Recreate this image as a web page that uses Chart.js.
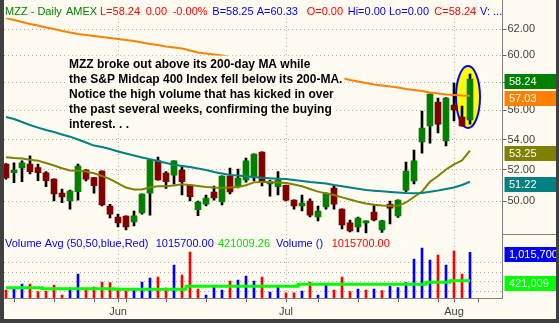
<!DOCTYPE html>
<html><head><meta charset="utf-8">
<script src="https://cdn.jsdelivr.net/npm/chart.js@4.4.1/dist/chart.umd.min.js"></script>
<style>
html,body{margin:0;padding:0;background:#404040;width:559px;height:323px;overflow:hidden}
#wrap{position:absolute;left:4px;top:0;width:552px;height:319px;background:#FFFBF0}
canvas{display:block}
</style></head><body>
<div id="wrap"><canvas id="c" width="552" height="319"></canvas></div>
<script>
// ---------- DATA ----------
const dates = ['2007-05-11','2007-05-14','2007-05-15','2007-05-16','2007-05-17','2007-05-18','2007-05-21','2007-05-22','2007-05-23','2007-05-24','2007-05-25','2007-05-29','2007-05-30','2007-05-31',
'2007-06-01','2007-06-04','2007-06-05','2007-06-06','2007-06-07','2007-06-08','2007-06-11','2007-06-12','2007-06-13','2007-06-14','2007-06-15','2007-06-18','2007-06-19','2007-06-20','2007-06-21','2007-06-22','2007-06-25','2007-06-26','2007-06-27','2007-06-28','2007-06-29',
'2007-07-02','2007-07-03','2007-07-05','2007-07-06','2007-07-09','2007-07-10','2007-07-11','2007-07-12','2007-07-13','2007-07-16','2007-07-17','2007-07-18','2007-07-19','2007-07-20','2007-07-23','2007-07-24','2007-07-25','2007-07-26','2007-07-27','2007-07-30','2007-07-31',
'2007-08-01','2007-08-02','2007-08-03'];
const opens  = [52.36,51.80,52.11,52.37,52.13,51.80,51.39,50.50,50.02,50.59,51.98,51.48,51.91,49.69,49.01,49.07,48.71,49.26,50.50,52.57,51.78,51.65,51.98,51.01,49.46,49.81,50.57,49.94,51.59,50.95,51.33,51.46,53.16,51.08,50.90,50.99,50.06,49.69,50.00,49.01,49.63,50.82,49.50,48.65,48.41,48.65,49.32,48.23,49.81,49.07,50.69,51.27,53.83,54.92,56.59,53.90,56.38,55.54,55.33];
const highs  = [52.40,52.45,52.57,52.90,52.37,51.87,51.40,50.76,50.69,52.37,52.00,51.50,51.93,49.79,49.19,49.08,49.38,50.45,52.64,52.83,51.87,52.58,52.20,51.02,50.00,50.38,50.95,51.60,52.11,52.04,52.76,53.04,53.17,51.33,51.87,51.01,50.07,50.38,50.13,49.69,50.51,50.95,49.51,48.83,49.01,48.78,49.75,48.80,50.00,50.07,52.50,53.29,55.96,57.17,56.87,56.90,57.95,56.31,58.61];
const lows   = [51.39,51.16,51.22,51.72,51.29,50.90,50.00,49.90,49.50,50.06,51.27,50.50,49.69,48.95,48.41,48.23,48.47,49.19,49.13,51.32,50.80,51.06,50.38,50.00,49.09,49.69,50.06,49.75,50.44,50.82,51.20,51.27,50.95,50.31,50.38,50.00,49.50,49.38,49.01,48.77,49.50,49.50,48.28,48.11,48.11,48.05,48.77,48.08,48.59,48.98,50.59,51.08,53.09,53.76,54.44,53.56,55.26,54.90,55.05];
const closes = [51.46,51.98,52.45,51.87,51.80,51.29,50.44,50.25,50.63,52.24,51.39,50.97,49.75,49.19,48.65,48.41,49.09,50.44,52.63,51.33,51.22,52.57,51.22,50.27,49.94,50.19,50.19,51.59,50.57,51.46,52.57,53.03,51.20,51.14,51.33,50.06,49.69,49.87,49.13,49.38,50.50,49.81,48.53,48.17,48.95,48.77,48.83,48.77,49.56,50.06,51.91,52.57,54.78,57.16,55.05,56.87,56.03,54.92,58.24];
const ma200  = [62.86,62.70,62.55,62.39,62.27,62.12,62.00,61.85,61.73,61.61,61.54,61.46,61.38,61.31,61.23,61.15,61.08,60.96,60.85,60.77,60.66,60.58,60.51,60.36,60.20,60.13,60.05,59.98,59.87,59.75,59.64,59.53,59.42,59.31,59.20,59.09,58.97,58.86,58.75,58.64,58.53,58.42,58.31,58.17,58.06,57.95,57.84,57.77,57.70,57.63,57.52,57.45,57.37,57.27,57.20,57.12,57.09,57.05,57.03];
const ma50   = [55.54,55.40,55.19,54.99,54.81,54.64,54.51,54.34,54.19,54.00,53.80,53.59,53.49,53.36,53.19,53.06,52.93,52.80,52.68,52.57,52.43,52.32,52.24,52.17,52.07,51.98,51.85,51.75,51.65,51.62,51.57,51.53,51.48,51.44,51.42,51.39,51.33,51.27,51.20,51.15,51.11,51.01,50.93,50.85,50.77,50.69,50.65,50.61,50.57,50.53,50.50,50.49,50.50,50.58,50.66,50.76,50.85,51.01,51.22];
const ma20   = [52.81,52.76,52.73,52.65,52.59,52.43,52.27,52.09,51.94,51.93,51.88,51.77,51.59,51.39,51.11,50.85,50.73,50.73,50.87,50.93,50.94,50.98,51.06,51.01,50.95,50.88,50.85,50.84,50.85,50.89,51.00,51.18,51.21,51.20,51.17,51.14,51.04,50.93,50.76,50.59,50.48,50.38,50.23,50.09,49.96,49.85,49.77,49.72,49.70,49.70,49.91,50.25,50.60,51.22,51.59,52.01,52.34,52.60,53.25];
// volume in millions of shares
const volume = [0.227,0.248,0.352,0.352,0.191,0.206,0.331,0.122,0.269,0.562,0.233,0.290,0.394,0.380,0.269,0.206,0.248,0.394,0.478,0.499,0.269,0.751,0.541,1.024,0.248,0.122,0.290,0.227,0.415,0.436,0.520,0.415,0.499,0.185,0.310,0.170,0.170,0.206,0.394,0.122,0.331,0.227,0.499,0.191,0.248,0.227,0.248,0.212,0.310,0.275,0.380,0.877,1.108,0.856,0.961,0.751,1.045,0.562,1.0157];
const volDir = ['d','u','u','d','d','d','d','d','u','u','d','d','d','d','d','d','u','u','u','d','d','u','d','d','d','u','u','u','d','u','u','u','d','u','u','d','d','u','d','u','u','d','d','d','u','d','u','d','u','u','u','u','u','u','d','u','d','d','u'];
const volAvg = [0.275,0.275,0.275,0.275,0.275,0.254,0.254,0.254,0.254,0.254,0.254,0.254,0.254,0.254,0.241,0.241,0.241,0.241,0.241,0.241,0.241,0.241,0.241,0.304,0.304,0.304,0.304,0.304,0.304,0.304,0.304,0.304,0.304,0.304,0.304,0.304,0.304,0.346,0.346,0.346,0.346,0.346,0.346,0.346,0.346,0.346,0.346,0.346,0.346,0.346,0.346,0.346,0.346,0.388,0.388,0.388,0.42100926,0.42100926,0.42100926];
const priceTicks = [50,52,54,56,58,60,62];
const volGridTicks = [0.2,0.4,0.6,0.8];
const monthNames = ['Jan','Feb','Mar','Apr','May','Jun','Jul','Aug','Sep','Oct','Nov','Dec'];
const headerParts = [['MZZ - Daily','g'],['AMEX','g'],['L=58.24','r'],['0.00','r'],['-0.00%','r'],['B=58.25','b'],['A=60.33','b'],['O=0.00','r'],['Hi=0.00','b'],['Lo=0.00','b'],['C=58.24','r'],['V: ...','b']];
const noteLines = ['MZZ broke out above its 200-day MA while','the S&P Midcap 400 Index fell below its 200-MA.','Notice the high volume that has kicked in over','the past several weeks, confirming the buying','interest. . .'];

// ---------- derived ticks ----------
const D = dates.map(s => new Date(s + 'T12:00:00Z'));
const monthTicks = [], weekTicks = [];
D.forEach((d, i) => {
  if (i > 0 && d.getUTCMonth() !== D[i-1].getUTCMonth()) monthTicks.push(i);
  if (i > 0 && d.getUTCDay() < D[i-1].getUTCDay()) weekTicks.push(i);
});
if (D[D.length-1].getUTCDay() === 5) weekTicks.push(dates.length);
const xTicks = Array.from(new Set([...weekTicks, ...monthTicks])).sort((a,b)=>a-b);

const FONT = '"Liberation Sans", Arial, sans-serif';
Chart.defaults.font.family = FONT;
const C = {g:'#008000', r:'#FF0000', b:'#0000FF'};
const idx = dates.map((_, i) => i);

const overlay = {
  id: 'overlay',
  beforeDatasetsDraw(chart) {
    const {ctx, scales:{x, y}} = chart;
    const cx = x.getPixelForValue(57.75);
    const top = y.getPixelForValue(59.2), bot = y.getPixelForValue(54.78);
    const rx = x.getPixelForValue(59.25) - cx;
    ctx.save();
    ctx.beginPath();
    ctx.ellipse(cx, (top+bot)/2, rx, (bot-top)/2, 0, 0, Math.PI*2);
    ctx.fillStyle = '#FFFF00'; ctx.fill();
    ctx.lineWidth = 2; ctx.strokeStyle = '#0000FF'; ctx.stroke();
    ctx.restore();
  },
  afterDatasetsDraw(chart) {
    const {ctx} = chart;
    ctx.save();
    ctx.font = 'bold 12px ' + FONT;
    ctx.textBaseline = 'alphabetic';
    noteLines.forEach((t, k) => {
      const by = 67.7 + k * 15;
      const w = ctx.measureText(t).width;
      ctx.fillStyle = '#FFFBF0';
      ctx.fillRect(64, by - 12, w + 3, 15);
      ctx.fillStyle = '#000';
      ctx.fillText(t, 65, by);
    });
    ctx.restore();
  },
  afterDraw(chart) {
    const {ctx, chartArea:ca, scales:{y, v}} = chart;
    ctx.save();
    // right axis line through header and pane separator in axis area
    ctx.strokeStyle = '#808080'; ctx.lineWidth = 1;
    ctx.beginPath();
    ctx.moveTo(Math.floor(ca.right)+0.5, 0); ctx.lineTo(Math.floor(ca.right)+0.5, ca.bottom);
    ctx.moveTo(ca.right, Math.round(y.bottom)+0.5); ctx.lineTo(chart.width, Math.round(y.bottom)+0.5);
    ctx.stroke();
    // header
    ctx.font = '11px ' + FONT;
    ctx.textBaseline = 'alphabetic';
    const hx = [1, 62, 96, 141.7, 168.7, 208.3, 252.7, 302.7, 343.7, 385, 430.3, 476];
    headerParts.forEach((p, k) => { ctx.fillStyle = C[p[1]]; ctx.fillText(p[0], hx[k], 15); });
    // volume legend
    const last = dates.length - 1;
    const vparts = [['Volume Avg (50,50,blue,Red)', '#0000FF', 1], [(volume[last]*1e6).toFixed(2), '#0000FF', 151.7],
      [(volAvg[last]*1e6).toFixed(2), '#00E000', 214], ['Volume ()', '#0000FF', 272], [(volume[last]*1e6).toFixed(2), '#FF0000', 327.7]];
    vparts.forEach(p => { ctx.fillStyle = p[1]; ctx.fillText(p[0], p[2], 246.5); });
    // axis value boxes
    const boxes = [
      [y.getPixelForValue(closes[last]), '#008000', closes[last].toFixed(2)],
      [y.getPixelForValue(ma200[last]), '#FF8000', ma200[last].toFixed(2)],
      [y.getPixelForValue(ma20[last]), '#808000', ma20[last].toFixed(2)],
      [y.getPixelForValue(ma50[last]), '#008080', ma50[last].toFixed(2)],
      [v.getPixelForValue(volume[last]), '#0000FF', Math.round(volume[last]*1e6).toLocaleString('en-US')],
      [v.getPixelForValue(volAvg[last]), '#00FF00', Math.round(volAvg[last]*1e6).toLocaleString('en-US')]
    ];
    boxes.forEach(b => {
      const cy = Math.round(b[0] + 2);
      ctx.fillStyle = b[1];
      ctx.fillRect(ca.right + 2, cy - 7, chart.width - ca.right - 2, 15);
      ctx.fillStyle = '#FFFFFF';
      ctx.fillText(b[2], ca.right + 6.5, cy + 4);
    });
    ctx.restore();
  }
};

new Chart(document.getElementById('c'), {
  type: 'bar',
  data: {
    datasets: [
      {type:'line', label:'MA200', yAxisID:'y', data: idx.map(i=>({x:i, y:ma200[i]})), borderColor:'#FF8000', borderWidth:2, pointRadius:0, order:0},
      {type:'line', label:'MA50', yAxisID:'y', data: idx.map(i=>({x:i, y:ma50[i]})), borderColor:'#008080', borderWidth:2, pointRadius:0, order:0},
      {type:'line', label:'MA20', yAxisID:'y', data: idx.map(i=>({x:i, y:ma20[i]})), borderColor:'#808000', borderWidth:2, pointRadius:0, order:0},
      {type:'line', label:'Volume Avg', yAxisID:'v', data: idx.map(i=>({x:i, y:volAvg[i]})), borderColor:'#00FF00', borderWidth:3, pointRadius:0, stepped:'middle', order:0},
      {type:'bar', label:'Body', yAxisID:'y', data: idx.map(i=>({x:i, y:[opens[i], closes[i]]})),
        backgroundColor: idx.map(i => closes[i] >= opens[i] ? '#008000' : '#800000'), barThickness:6, grouped:false, minBarLength:1, order:1},
      {type:'bar', label:'Wick', yAxisID:'y', data: idx.map(i=>({x:i, y:[lows[i], highs[i]]})),
        backgroundColor:'#000000', barThickness:2, grouped:false, order:2},
      {type:'bar', label:'Volume', yAxisID:'v', data: idx.map(i=>({x:i, y:volume[i]})),
        backgroundColor: idx.map(i => volDir[i] === 'u' ? '#0000FF' : '#FF0000'), barThickness:2, grouped:false, order:2}
    ]
  },
  options: {
    responsive:false, devicePixelRatio:1, animation:false, events:[],
    layout:{padding:{top:18, left:0, right:0, bottom:0}},
    plugins:{legend:{display:false}, tooltip:{enabled:false}},
    scales: {
      x: {
        type:'linear', min:-0.25, max:62.0625, offset:false,
        afterBuildTicks: s => { s.ticks = xTicks.map(v => ({value:v})); },
        afterFit: s => { s.height = 21; },
        ticks: {autoSkip:false, maxRotation:0, padding:3, color:'#404040', font:{size:11},
          callback: v => monthTicks.includes(v) ? monthNames[D[v].getUTCMonth()] : ''},
        grid: {offset:false, color: c => (c.tick && monthTicks.includes(c.tick.value)) ? '#a8a8a8' : 'rgba(0,0,0,0)',
          tickColor:'#606060', tickLength:4},
        border: {color:'#808080', dash:[1,3]}
      },
      y: {
        type:'logarithmic', position:'right', stack:'pane', stackWeight:216, min:47.98, max:62.86,
        afterBuildTicks: s => { s.ticks = priceTicks.map(v => ({value:v})); },
        afterFit: s => { s.width = 53.5; },
        ticks: {autoSkip:false, padding:1, color:'#404040', font:{size:11}, callback: v => Number(v).toFixed(2)},
        grid: {color:'#a8a8a8', tickColor:'#606060', tickLength:4},
        border: {color:'#808080', dash:[1,3]}
      },
      v: {
        type:'linear', position:'right', stack:'pane', stackWeight:64, min:0.059, max:1.401,
        afterBuildTicks: s => { s.ticks = volGridTicks.map(v => ({value:v})); },
        afterFit: s => { s.width = 53.5; },
        ticks: {display:false},
        grid: {color:'#a8a8a8', drawTicks:false},
        border: {color:'#808080', dash:[1,3]}
      }
    }
  },
  plugins:[overlay]
});
</script></body></html>
